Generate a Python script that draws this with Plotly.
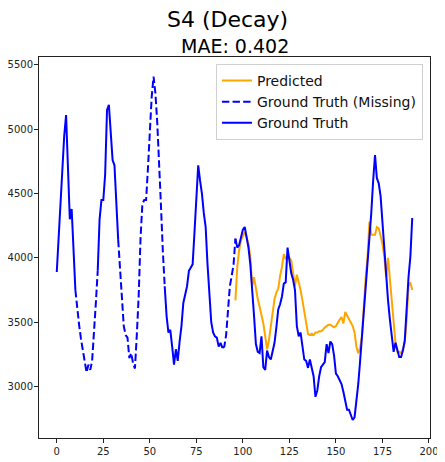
import plotly.graph_objects as go

ground_truth = [
    3890, 4150, 4450, 4750, 4950, 5110, 4700, 4300, 4380, 4050,
    3750, 3600, 3480, 3370, 3280, 3190, 3110, 3170, 3130, 3200,
    3400, 3650, 3900, 4300, 4450, 4450, 4650, 5150, 5190, 5000,
    4760, 4720, 4400, 4140, 3900, 3650, 3470, 3400, 3380, 3220,
    3260, 3180, 3140, 3400, 3700, 4150, 4420, 4450, 4450, 4700,
    5000, 5250, 5410, 5280, 5050, 4760, 4400, 4050, 3780, 3550,
    3420, 3440, 3310, 3170, 3290, 3200, 3350, 3470, 3650, 3720,
    3780, 3900, 3930, 3950, 4200, 4430, 4720, 4600, 4500, 4350,
    4240, 3950, 3680, 3500, 3420, 3390, 3380, 3310, 3340, 3300,
    3310, 3400, 3600, 3780, 3860, 3950, 4150, 4080, 4100, 4170,
    4220, 4240, 4150, 4080, 3950, 3780, 3550, 3330, 3270, 3260,
    3390, 3150, 3130, 3280, 3230, 3210, 3270, 3340, 3460, 3600,
    3640, 3700, 3800, 3810, 4080, 3960, 3880, 3830, 3750, 3470,
    3390, 3420, 3290, 3210, 3200, 3145, 3210, 3150, 3080, 2920,
    2970, 3080, 3150, 3170, 3190, 3330, 3260, 3350, 3330, 3240,
    3100, 3080, 3050, 3020, 2960, 2880, 2820, 2820, 2770, 2740,
    2760, 2880, 3020, 3200, 3390, 3600, 3780, 3960, 4140, 4350,
    4600, 4800, 4620, 4580, 4480, 4270, 4100, 3860, 3670, 3520,
    3390, 3270, 3340, 3280, 3230, 3230, 3280, 3360, 3620, 3850,
    4010, 4310,
]

pred_start = 96
predicted = [
    3670, 3930, 4060, 4140, 4170, 4200, 4160, 4110, 4010, 3780,
    3850, 3750, 3680, 3620, 3550, 3490, 3390, 3290, 3360, 3470,
    3570, 3680, 3730, 3760, 3860, 3930, 4030, 3990, 4020, 4000,
    3980, 3880, 3780, 3870, 3820, 3750, 3670, 3590, 3500, 3410,
    3400, 3410, 3400, 3420, 3420, 3430, 3430, 3440, 3460, 3470,
    3480, 3480, 3470, 3460, 3470, 3500, 3520, 3540, 3490, 3580,
    3550, 3530, 3500, 3470, 3420, 3310, 3260, 3300, 3390, 3670,
    3850, 4010, 4280, 4180, 4180, 4180, 4240, 4230, 4170, 4110,
    4010, 3850, 4000, 3830, 3620, 3490, 3340, 3270, 3270, 3260,
    3290, 3340, 3520, 3780, 3810, 3750,
]

missing_ranges = [(11, 21), (34, 57), (90, 95)]

x_all = list(range(len(ground_truth)))
missing = [any(a <= i <= b for a, b in missing_ranges) for i in x_all]
solid = [v if not m else None for v, m in zip(ground_truth, missing)]
dashed = []
for i, v in enumerate(ground_truth):
    near = missing[i] or (i > 0 and missing[i - 1]) or (i < len(missing) - 1 and missing[i + 1])
    dashed.append(v if near else None)
x_pred = list(range(pred_start, pred_start + len(predicted)))

fig = go.Figure()
fig.add_trace(go.Scatter(x=x_pred, y=predicted, mode="lines", name="Predicted",
                         line=dict(color="#FFA500", width=2)))
fig.add_trace(go.Scatter(x=x_all, y=dashed, mode="lines", name="Ground Truth (Missing)",
                         line=dict(color="#0000FF", width=2, dash="7.4px,3.2px"),
                         connectgaps=False))
fig.add_trace(go.Scatter(x=x_all, y=solid, mode="lines", name="Ground Truth",
                         line=dict(color="#0000FF", width=2), connectgaps=False))

axis_common = dict(showgrid=False, zeroline=False, showline=True, linecolor="#222",
                   linewidth=1, mirror=True, ticks="outside", ticklen=4, automargin=False,
                   tickcolor="#222", tickfont=dict(family="DejaVu Sans", size=10, color="#222"))

# page body has an 8px margin; figure sized so the plot lands where the reference has it
fig.update_layout(
    width=437, height=454,
    paper_bgcolor="white", plot_bgcolor="white",
    margin=dict(l=31, r=15, t=49, b=24),
    showlegend=True,
    xaxis=dict(range=[-9.55, 200.55], tickvals=[0, 25, 50, 75, 100, 125, 150, 175, 200], **axis_common),
    yaxis=dict(range=[2600, 5562], tickvals=[3000, 3500, 4000, 4500, 5000, 5500],
               ticklabelstandoff=-1, **axis_common),
    legend=dict(x=0.982, y=0.982, xanchor="right", yanchor="top",
                bgcolor="rgba(255,255,255,0.8)", bordercolor="#d0d0d0", borderwidth=1,
                font=dict(family="DejaVu Sans", size=14, color="#111"),
                tracegroupgap=0),
    annotations=[
        dict(text="S4 (Decay)", xref="paper", yref="paper", x=0.482, y=(438 - 19) / 381,
             xanchor="center", yanchor="middle", showarrow=False,
             font=dict(family="DejaVu Sans", size=22, color="black")),
        dict(text="MAE: 0.402", xref="paper", yref="paper", x=0.5, y=(438 - 46) / 381,
             xanchor="center", yanchor="middle", showarrow=False,
             font=dict(family="DejaVu Sans", size=19, color="black")),
    ],
)

fig.write_html("out.html")
